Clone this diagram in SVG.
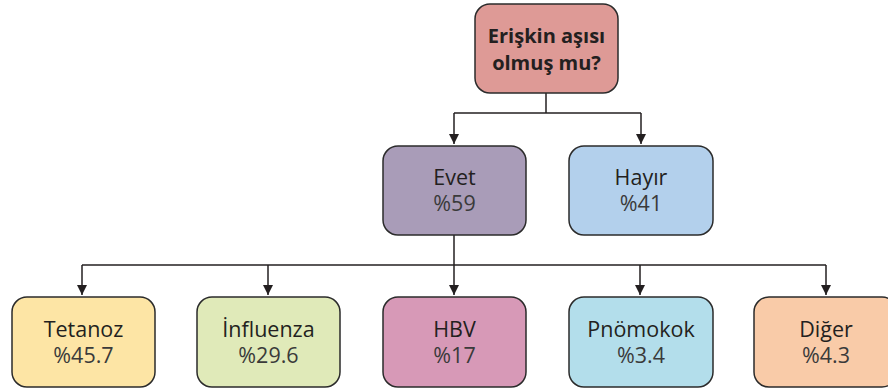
<svg xmlns="http://www.w3.org/2000/svg" width="888" height="392" viewBox="0 0 888 392">
<style>
.box{stroke:#2b2b2b;stroke-width:1.5}
.t{font-family:"Open Sans","Noto Sans",sans-serif;font-size:21.5px;fill:#231f20;text-anchor:middle}
.b{font-weight:bold;font-size:20px}
.p{fill:#3a3a3a}
.c{fill:none;stroke:#231f20;stroke-width:1.5}
</style>
<defs>
<marker id="ah" viewBox="0 0 10 10" refX="10" refY="5" markerWidth="10" markerHeight="10" markerUnits="userSpaceOnUse" orient="auto">
<path d="M0,0 L10,5 L0,10 z" fill="#231f20"/>
</marker>
</defs>
<rect width="888" height="392" fill="#fff"/>
<g id="connectors">
<path class="c" d="M546,93 V113"/>
<path class="c" d="M454,113 H641"/>
<path class="c" d="M454,113 V144" marker-end="url(#ah)"/>
<path class="c" d="M641,113 V144" marker-end="url(#ah)"/>
<path class="c" d="M454,235 V295" marker-end="url(#ah)"/>
<path class="c" d="M82,265 H826"/>
<path class="c" d="M82,265 V295" marker-end="url(#ah)"/>
<path class="c" d="M268,265 V295" marker-end="url(#ah)"/>
<path class="c" d="M640,265 V295" marker-end="url(#ah)"/>
<path class="c" d="M826,265 V295" marker-end="url(#ah)"/>
</g>
<g id="root">
<rect class="box" x="475" y="4" width="143" height="89" rx="15" fill="#de9a96"/>
<text class="t b" x="546.5" y="43">Erişkin aşısı</text>
<text class="t b" x="546.5" y="70">olmuş mu?</text>
</g>
<g id="evet">
<rect class="box" x="383" y="146" width="143" height="89" rx="15" fill="#a99cb8"/>
<text class="t" x="454.5" y="185">Evet</text>
<text class="t p" x="454.5" y="211">%59</text>
</g>
<g id="hayir">
<rect class="box" x="569" y="146" width="144" height="89" rx="15" fill="#b3d0ec"/>
<text class="t" x="641" y="185">Hayır</text>
<text class="t p" x="641" y="211">%41</text>
</g>
<g id="tetanoz">
<rect class="box" x="12" y="297" width="143" height="90" rx="15" fill="#fde5a5"/>
<text class="t" x="83.5" y="337">Tetanoz</text>
<text class="t p" x="83.5" y="363">%45.7</text>
</g>
<g id="influenza">
<rect class="box" x="197" y="297" width="143" height="90" rx="15" fill="#e0eab9"/>
<text class="t" x="268.5" y="337">İnfluenza</text>
<text class="t p" x="268.5" y="363">%29.6</text>
</g>
<g id="hbv">
<rect class="box" x="383" y="297" width="143" height="90" rx="15" fill="#d799b7"/>
<text class="t" x="454.5" y="337">HBV</text>
<text class="t p" x="454.5" y="363">%17</text>
</g>
<g id="pnomokok">
<rect class="box" x="569" y="297" width="144" height="90" rx="15" fill="#b3deeb"/>
<text class="t" x="641" y="337">Pnömokok</text>
<text class="t p" x="641" y="363">%3.4</text>
</g>
<g id="diger">
<rect class="box" x="754" y="297" width="143" height="90" rx="15" fill="#f9cba8"/>
<text class="t" x="826" y="337">Diğer</text>
<text class="t p" x="826" y="363">%4.3</text>
</g>
</svg>
